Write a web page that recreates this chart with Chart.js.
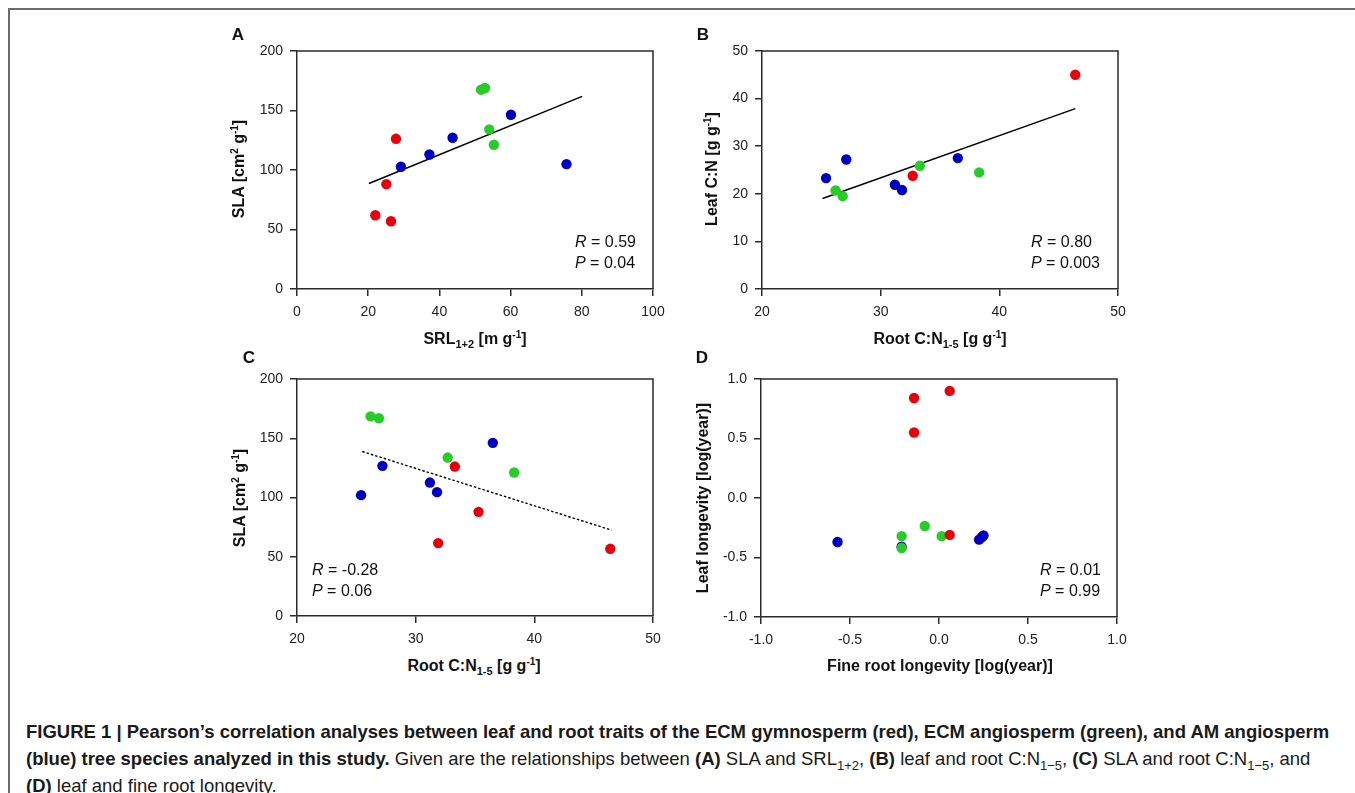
<!DOCTYPE html>
<html>
<head>
<meta charset="utf-8">
<script src="https://cdn.jsdelivr.net/npm/chart.js@4.4.1/dist/chart.umd.min.js"></script>
<style>
  html, body { margin:0; padding:0; background:#fff; }
  body { width:1355px; height:793px; position:relative; overflow:hidden; font-family:"Liberation Sans", Arial, sans-serif; color:#111; }
  #frame { position:absolute; left:8px; top:8px; right:-10px; bottom:-10px; border-top:2px solid #6a6a6a; border-left:2px solid #6a6a6a; }
  canvas { position:absolute; }
  .lbl { position:absolute; white-space:nowrap; }
  .panel { font-weight:bold; font-size:17px; transform:translate(-50%,-50%); }
  .xt { font-weight:bold; font-size:16px; transform:translate(-50%,-50%); line-height:20px; }
  .yt { font-weight:bold; font-size:16px; transform:translate(-50%,-50%) rotate(-90deg); line-height:20px; }
  .xt sup, .yt sup { font-size:10px; vertical-align:6px; line-height:0; }
  .xt sub, .yt sub { font-size:11px; vertical-align:-4px; line-height:0; }
  .st { font-size:16px; line-height:21px; color:#111; }
  .st i { font-style:italic; }
  #caption { position:absolute; left:26px; top:718px; font-size:18.5px; line-height:27px; color:#1a1a1a; white-space:nowrap; }
  #caption sub { font-size:13px; vertical-align:-5px; line-height:0; }
</style>
</head>
<body>
<div id="frame"></div>

<canvas id="cA" width="476" height="298" style="left:197px;top:31px;width:476px;height:298px"></canvas>
<canvas id="cB" width="476" height="298" style="left:662px;top:31px;width:476px;height:298px"></canvas>
<canvas id="cC" width="476" height="297" style="left:197px;top:359px;width:476px;height:297px"></canvas>
<canvas id="cD" width="476" height="298" style="left:661px;top:359px;width:476px;height:298px"></canvas>

<div class="lbl panel" style="left:238px;top:35px">A</div>
<div class="lbl panel" style="left:703px;top:35px">B</div>
<div class="lbl panel" style="left:249px;top:358px">C</div>
<div class="lbl panel" style="left:702px;top:358px">D</div>

<div class="lbl xt" style="left:475px;top:339px">SRL<sub>1+2</sub> [m g<sup>-1</sup>]</div>
<div class="lbl xt" style="left:940px;top:339px">Root C:N<sub>1-5</sub> [g g<sup>-1</sup>]</div>
<div class="lbl xt" style="left:474px;top:666px">Root C:N<sub>1-5</sub> [g g<sup>-1</sup>]</div>
<div class="lbl xt" style="left:940px;top:666px">Fine root longevity [log(year)]</div>

<div class="lbl yt" style="left:239px;top:169px">SLA [cm<sup>2</sup> g<sup>-1</sup>]</div>
<div class="lbl yt" style="left:712px;top:169px">Leaf C:N [g g<sup>-1</sup>]</div>
<div class="lbl yt" style="left:240px;top:498px">SLA [cm<sup>2</sup> g<sup>-1</sup>]</div>
<div class="lbl yt" style="left:703px;top:498px">Leaf longevity [log(year)]</div>

<div class="lbl st" id="stA" style="left:575px;top:231px"></div>
<div class="lbl st" id="stB" style="left:1031px;top:231px"></div>
<div class="lbl st" id="stC" style="left:312px;top:559px"></div>
<div class="lbl st" id="stD" style="left:1040px;top:559px"></div>

<div id="caption"><b>FIGURE 1 | Pearson’s correlation analyses between leaf and root traits of the ECM gymnosperm (red), ECM angiosperm (green), and AM angiosperm</b><br><b>(blue) tree species analyzed in this study.</b> Given are the relationships between <b>(A)</b> SLA and SRL<sub>1+2</sub>, <b>(B)</b> leaf and root C:N<sub>1−5</sub>, <b>(C)</b> SLA and root C:N<sub>1−5</sub>, and<br><b>(D)</b> leaf and fine root longevity.</div>

<script>
// ---------------- DATA ----------------
// Panel A: SLA vs SRL1+2
const aRedSRL   = [22.0, 25.1, 26.4, 27.8];
const aRedSLA   = [62.0, 88.1, 56.9, 126.2];
const aGreenSRL = [51.7, 52.8, 54.0, 55.3];
const aGreenSLA = [167.5, 168.9, 134.1, 121.2];
const aBlueSRL  = [29.2, 37.2, 43.7, 60.1, 75.7];
const aBlueSLA  = [102.7, 113.0, 127.1, 146.4, 104.9];
const aFitSRL   = [20.2, 80.1];
const aFitSLA   = [88.6, 161.9];
const aTicksX   = [0, 20, 40, 60, 80, 100];
const aTicksY   = [0, 50, 100, 150, 200];
const aStats    = ["0.59", "0.04"];

// Panel B: Leaf C:N vs Root C:N1-5
const bRedRootCN   = [32.7, 46.4];
const bRedLeafCN   = [23.8, 45.0];
const bGreenRootCN = [26.2, 26.8, 33.3, 38.3];
const bGreenLeafCN = [20.7, 19.5, 25.9, 24.5];
const bBlueRootCN  = [25.4, 27.1, 31.2, 31.8, 36.5];
const bBlueLeafCN  = [23.3, 27.2, 21.9, 20.8, 27.5];
const bFitRootCN   = [25.1, 46.4];
const bFitLeafCN   = [19.0, 37.9];
const bTicksX      = [20, 30, 40, 50];
const bTicksY      = [0, 10, 20, 30, 40, 50];
const bStats       = ["0.80", "0.003"];

// Panel C: SLA vs Root C:N1-5
const cRedRootCN   = [33.3, 35.3, 31.9, 46.4];
const cRedSLA      = [126.1, 87.9, 61.5, 56.7];
const cGreenRootCN = [26.2, 26.9, 32.7, 38.3];
const cGreenSLA    = [168.5, 166.9, 133.7, 121.1];
const cBlueRootCN  = [25.4, 27.2, 31.2, 31.8, 36.5];
const cBlueSLA     = [102.0, 126.7, 112.6, 104.5, 146.1];
const cFitRootCN   = [25.5, 46.5];
const cFitSLA      = [138.8, 72.5];
const cTicksX      = [20, 30, 40, 50];
const cTicksY      = [0, 50, 100, 150, 200];
const cStats       = ["-0.28", "0.06"];

// Panel D: Leaf longevity vs Fine root longevity (log years)
const dRedRoot    = [-0.14, 0.06, -0.14, 0.06];
const dRedLeaf    = [0.84, 0.90, 0.55, -0.31];
const dGreenRoot  = [-0.21, -0.08, 0.015, -0.21];
const dGreenLeaf  = [-0.32, -0.235, -0.32, -0.42];
const dBlueRoot   = [-0.57, -0.21, 0.225, 0.24, 0.25];
const dBlueLeaf   = [-0.37, -0.41, -0.35, -0.33, -0.315];
const dTicksX     = [-1.0, -0.5, 0.0, 0.5, 1.0];
const dTicksY     = [-1.0, -0.5, 0.0, 0.5, 1.0];
const dStats      = ["0.01", "0.99"];

// ---------------- STYLE ----------------
const RED = '#e8000a', GREEN = '#28cc28', BLUE = '#0000c4';
const AXIS = '#2b2b2b';
const FONT = '"Liberation Sans", Arial, sans-serif';

function pts(xs, ys) { return xs.map((x, i) => ({ x: x, y: ys[i] })); }

const boxPlugin = {
  id: 'boxPlugin',
  afterDraw(chart) {
    const a = chart.chartArea, ctx = chart.ctx;
    ctx.save();
    ctx.strokeStyle = AXIS;
    ctx.lineWidth = 1.5;
    ctx.beginPath();
    ctx.moveTo(a.left, a.top);
    ctx.lineTo(a.right, a.top);
    ctx.lineTo(a.right, a.bottom);
    ctx.stroke();
    ctx.restore();
  }
};

function axis(ticksArr, decimals, isY) {
  return {
    type: 'linear',
    min: ticksArr[0],
    max: ticksArr[ticksArr.length - 1],
    afterBuildTicks: s => { s.ticks = ticksArr.map(v => ({ value: v })); },
    afterFit: s => { if (isY) s.width = 100; else s.height = 40; },
    grid: { drawOnChartArea: false, drawTicks: true, tickLength: 7, color: AXIS, lineWidth: 1.5 },
    border: { display: true, color: AXIS, width: 1.5 },
    ticks: {
      autoSkip: false, maxRotation: 0, minRotation: 0,
      padding: isY ? 7 : 8,
      color: '#222',
      font: { family: FONT, size: 14 },
      callback: v => decimals ? Number(v).toFixed(decimals) : String(v)
    },
    title: { display: false }
  };
}

function makeChart(id, red, green, blue, fit, dashed, tx, ty, dec) {
  const datasets = [
    { label: 'ECM gymnosperm', data: red, backgroundColor: RED, order: 1 },
    { label: 'ECM angiosperm', data: green, backgroundColor: GREEN, order: 2 },
    { label: 'AM angiosperm', data: blue, backgroundColor: BLUE, order: 3 }
  ];
  datasets.forEach(d => { d.pointRadius = 5.2; d.pointBorderWidth = 0; d.borderWidth = 0; d.pointHoverRadius = 5.2; });
  if (fit) {
    datasets.push({
      label: 'fit', data: fit, showLine: true, pointRadius: 0, borderColor: '#000',
      borderWidth: dashed ? 1.4 : 1.5, borderDash: dashed ? [2.5, 2] : [], order: 4, fill: false
    });
  }
  new Chart(document.getElementById(id), {
    type: 'scatter',
    data: { datasets: datasets },
    options: {
      responsive: false,
      animation: false,
      events: [],
      layout: { padding: { top: 20, right: 20, left: 0, bottom: 0 } },
      plugins: { legend: { display: false }, tooltip: { enabled: false } },
      scales: { x: axis(tx, dec, false), y: axis(ty, dec, true) }
    },
    plugins: [boxPlugin]
  });
}

makeChart('cA', pts(aRedSRL, aRedSLA), pts(aGreenSRL, aGreenSLA), pts(aBlueSRL, aBlueSLA),
          pts(aFitSRL, aFitSLA), false, aTicksX, aTicksY, 0);
makeChart('cB', pts(bRedRootCN, bRedLeafCN), pts(bGreenRootCN, bGreenLeafCN), pts(bBlueRootCN, bBlueLeafCN),
          pts(bFitRootCN, bFitLeafCN), false, bTicksX, bTicksY, 0);
makeChart('cC', pts(cRedRootCN, cRedSLA), pts(cGreenRootCN, cGreenSLA), pts(cBlueRootCN, cBlueSLA),
          pts(cFitRootCN, cFitSLA), true, cTicksX, cTicksY, 0);
makeChart('cD', pts(dRedRoot, dRedLeaf), pts(dGreenRoot, dGreenLeaf), pts(dBlueRoot, dBlueLeaf),
          null, false, dTicksX, dTicksY, 1);

function stat(id, s) {
  document.getElementById(id).innerHTML = '<i>R</i> = ' + s[0] + '<br><i>P</i> = ' + s[1];
}
stat('stA', aStats); stat('stB', bStats); stat('stC', cStats); stat('stD', dStats);
</script>
</body>
</html>
